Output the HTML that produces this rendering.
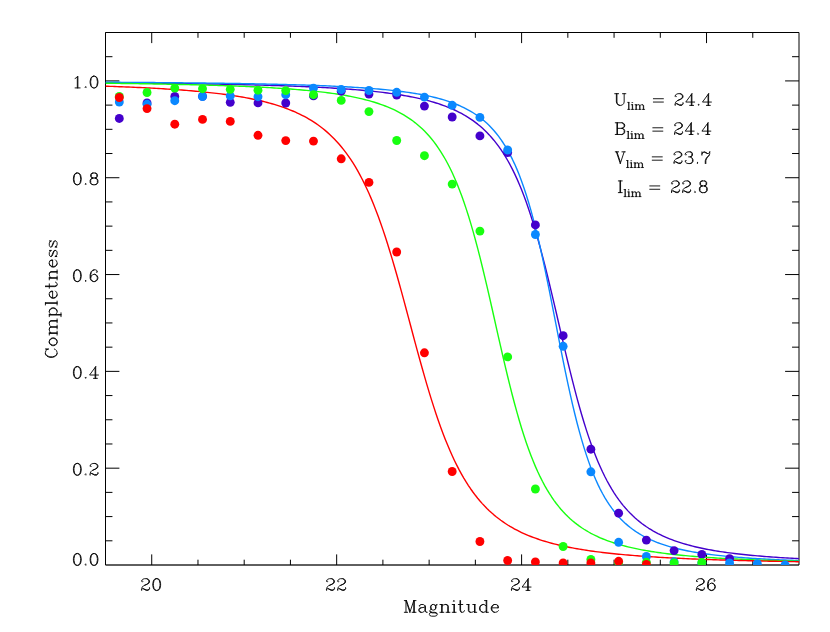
<!DOCTYPE html>
<html><head><meta charset="utf-8"><title>Completeness</title>
<style>html,body{margin:0;padding:0;background:#fff;font-family:"Liberation Sans",sans-serif;}svg{display:block}</style>
</head><body>
<svg width="830" height="632" viewBox="0 0 830 632">
<rect width="830" height="632" fill="#fff"/>
<defs><clipPath id="c"><rect x="105.50" y="32.50" width="693.50" height="532.50"/></clipPath></defs>
<path d="M105.50 32.50H799.00V565.00H105.50ZM105.50 565.00v-5.30M105.50 32.50v5.30M151.73 565.00v-10.60M151.73 32.50v10.60M197.97 565.00v-5.30M197.97 32.50v5.30M244.20 565.00v-5.30M244.20 32.50v5.30M290.43 565.00v-5.30M290.43 32.50v5.30M336.67 565.00v-10.60M336.67 32.50v10.60M382.90 565.00v-5.30M382.90 32.50v5.30M429.13 565.00v-5.30M429.13 32.50v5.30M475.37 565.00v-5.30M475.37 32.50v5.30M521.60 565.00v-10.60M521.60 32.50v10.60M567.83 565.00v-5.30M567.83 32.50v5.30M614.07 565.00v-5.30M614.07 32.50v5.30M660.30 565.00v-5.30M660.30 32.50v5.30M706.53 565.00v-10.60M706.53 32.50v10.60M752.77 565.00v-5.30M752.77 32.50v5.30M105.50 540.80h6.95M799.00 540.80h-6.95M105.50 516.59h6.95M799.00 516.59h-6.95M105.50 492.39h6.95M799.00 492.39h-6.95M105.50 468.18h13.90M799.00 468.18h-13.90M105.50 443.98h6.95M799.00 443.98h-6.95M105.50 419.77h6.95M799.00 419.77h-6.95M105.50 395.57h6.95M799.00 395.57h-6.95M105.50 371.36h13.90M799.00 371.36h-13.90M105.50 347.16h6.95M799.00 347.16h-6.95M105.50 322.95h6.95M799.00 322.95h-6.95M105.50 298.75h6.95M799.00 298.75h-6.95M105.50 274.55h13.90M799.00 274.55h-13.90M105.50 250.34h6.95M799.00 250.34h-6.95M105.50 226.14h6.95M799.00 226.14h-6.95M105.50 201.93h6.95M799.00 201.93h-6.95M105.50 177.73h13.90M799.00 177.73h-13.90M105.50 153.52h6.95M799.00 153.52h-6.95M105.50 129.32h6.95M799.00 129.32h-6.95M105.50 105.11h6.95M799.00 105.11h-6.95M105.50 80.91h13.90M799.00 80.91h-13.90M105.50 56.70h6.95M799.00 56.70h-6.95" fill="none" stroke="#000" stroke-width="1.0" stroke-linecap="butt" stroke-linejoin="miter"/>
<path d="M105.50 565.00H799.00" fill="none" stroke="#000" stroke-width="0.5"/>
<g clip-path="url(#c)" fill="none" stroke-width="1.4" stroke-linejoin="round">
<path d="M105.50 82.75L107.81 82.77L110.12 82.79L112.43 82.81L114.75 82.83L117.06 82.85L119.37 82.87L121.68 82.89L123.99 82.91L126.31 82.93L128.62 82.95L130.93 82.98L133.24 83.00L135.55 83.02L137.86 83.04L140.18 83.07L142.49 83.09L144.80 83.11L147.11 83.14L149.42 83.16L151.73 83.19L154.04 83.21L156.36 83.24L158.67 83.27L160.98 83.29L163.29 83.32L165.60 83.35L167.92 83.38L170.23 83.41L172.54 83.44L174.85 83.47L177.16 83.50L179.47 83.53L181.78 83.56L184.10 83.59L186.41 83.63L188.72 83.66L191.03 83.69L193.34 83.73L195.66 83.76L197.97 83.80L200.28 83.84L202.59 83.87L204.90 83.91L207.21 83.95L209.53 83.99L211.84 84.03L214.15 84.07L216.46 84.11L218.77 84.16L221.08 84.20L223.39 84.25L225.71 84.29L228.02 84.34L230.33 84.38L232.64 84.43L234.95 84.48L237.27 84.53L239.58 84.58L241.89 84.64L244.20 84.69L246.51 84.75L248.82 84.80L251.13 84.86L253.45 84.92L255.76 84.98L258.07 85.04L260.38 85.10L262.69 85.17L265.01 85.23L267.32 85.30L269.63 85.37L271.94 85.44L274.25 85.51L276.56 85.58L278.88 85.66L281.19 85.73L283.50 85.81L285.81 85.89L288.12 85.98L290.43 86.06L292.74 86.15L295.06 86.24L297.37 86.33L299.68 86.42L301.99 86.52L304.30 86.62L306.62 86.72L308.93 86.82L311.24 86.93L313.55 87.04L315.86 87.15L318.17 87.27L320.48 87.39L322.80 87.51L325.11 87.64L327.42 87.77L329.73 87.90L332.04 88.04L334.36 88.18L336.67 88.32L338.98 88.47L341.29 88.63L343.60 88.79L345.91 88.95L348.23 89.12L350.54 89.29L352.85 89.47L355.16 89.66L357.47 89.85L359.78 90.05L362.09 90.25L364.41 90.46L366.72 90.68L369.03 90.90L371.34 91.14L373.65 91.38L375.97 91.63L378.28 91.88L380.59 92.15L382.90 92.43L385.21 92.71L387.52 93.01L389.83 93.32L392.15 93.64L394.46 93.97L396.77 94.32L399.08 94.68L401.39 95.05L403.71 95.44L406.02 95.84L408.33 96.26L410.64 96.70L412.95 97.15L415.26 97.63L417.57 98.12L419.89 98.64L422.20 99.18L424.51 99.74L426.82 100.33L429.13 100.94L431.44 101.59L433.76 102.26L436.07 102.96L438.38 103.70L440.69 104.48L443.00 105.29L445.32 106.14L447.63 107.04L449.94 107.98L452.25 108.97L454.56 110.01L456.87 111.11L459.18 112.27L461.50 113.48L463.81 114.77L466.12 116.13L468.43 117.56L470.74 119.08L473.06 120.68L475.37 122.37L477.68 124.17L479.99 126.07L482.30 128.09L484.61 130.23L486.93 132.50L489.24 134.90L491.55 137.46L493.86 140.18L496.17 143.07L498.48 146.15L500.79 149.42L503.11 152.89L505.42 156.59L507.73 160.52L510.04 164.70L512.35 169.14L514.67 173.87L516.98 178.88L519.29 184.19L521.60 189.82L523.91 195.79L526.22 202.08L528.53 208.73L530.85 215.72L533.16 223.06L535.47 230.75L537.78 238.79L540.09 247.15L542.41 255.82L544.72 264.78L547.03 274.01L549.34 283.46L551.65 293.10L553.96 302.89L556.28 312.78L558.59 322.72L560.90 332.66L563.21 342.55L565.52 352.34L567.83 361.99L570.14 371.45L572.46 380.69L574.77 389.66L577.08 398.35L579.39 406.73L581.70 414.78L584.02 422.49L586.33 429.85L588.64 436.86L590.95 443.51L593.26 449.83L595.57 455.81L597.88 461.45L600.20 466.78L602.51 471.81L604.82 476.54L607.13 481.00L609.44 485.19L611.76 489.14L614.07 492.84L616.38 496.33L618.69 499.61L621.00 502.69L623.31 505.59L625.62 508.32L627.94 510.88L630.25 513.30L632.56 515.58L634.87 517.72L637.18 519.74L639.49 521.65L641.81 523.45L644.12 525.15L646.43 526.76L648.74 528.28L651.05 529.71L653.37 531.08L655.68 532.36L657.99 533.59L660.30 534.74L662.61 535.84L664.92 536.89L667.23 537.88L669.55 538.83L671.86 539.72L674.17 540.58L676.48 541.39L678.79 542.17L681.11 542.91L683.42 543.62L685.73 544.29L688.04 544.94L690.35 545.55L692.66 546.14L694.98 546.71L697.29 547.25L699.60 547.76L701.91 548.26L704.22 548.73L706.53 549.19L708.84 549.63L711.16 550.05L713.47 550.45L715.78 550.84L718.09 551.22L720.40 551.57L722.72 551.92L725.03 552.25L727.34 552.57L729.65 552.88L731.96 553.18L734.27 553.47L736.58 553.75L738.90 554.01L741.21 554.27L743.52 554.52L745.83 554.76L748.14 555.00L750.46 555.22L752.77 555.44L755.08 555.65L757.39 555.85L759.70 556.05L762.01 556.24L764.33 556.43L766.64 556.61L768.95 556.78L771.26 556.95L773.57 557.11L775.88 557.27L778.19 557.43L780.51 557.58L782.82 557.72L785.13 557.86L787.44 558.00L789.75 558.14L792.07 558.27L794.38 558.39L796.69 558.51L799.00 558.63" stroke="#4400cc"/>
<path d="M105.50 82.23L107.81 82.24L110.12 82.25L112.43 82.27L114.75 82.28L117.06 82.30L119.37 82.31L121.68 82.33L123.99 82.34L126.31 82.36L128.62 82.37L130.93 82.39L133.24 82.40L135.55 82.42L137.86 82.44L140.18 82.45L142.49 82.47L144.80 82.49L147.11 82.51L149.42 82.52L151.73 82.54L154.04 82.56L156.36 82.58L158.67 82.60L160.98 82.62L163.29 82.64L165.60 82.66L167.92 82.68L170.23 82.70L172.54 82.72L174.85 82.74L177.16 82.77L179.47 82.79L181.78 82.81L184.10 82.83L186.41 82.86L188.72 82.88L191.03 82.91L193.34 82.93L195.66 82.96L197.97 82.98L200.28 83.01L202.59 83.04L204.90 83.07L207.21 83.10L209.53 83.12L211.84 83.15L214.15 83.18L216.46 83.21L218.77 83.25L221.08 83.28L223.39 83.31L225.71 83.34L228.02 83.38L230.33 83.41L232.64 83.45L234.95 83.48L237.27 83.52L239.58 83.56L241.89 83.60L244.20 83.64L246.51 83.68L248.82 83.72L251.13 83.76L253.45 83.80L255.76 83.85L258.07 83.89L260.38 83.94L262.69 83.98L265.01 84.03L267.32 84.08L269.63 84.13L271.94 84.18L274.25 84.24L276.56 84.29L278.88 84.35L281.19 84.40L283.50 84.46L285.81 84.52L288.12 84.58L290.43 84.65L292.74 84.71L295.06 84.78L297.37 84.84L299.68 84.91L301.99 84.98L304.30 85.06L306.62 85.13L308.93 85.21L311.24 85.29L313.55 85.37L315.86 85.46L318.17 85.54L320.48 85.63L322.80 85.72L325.11 85.82L327.42 85.91L329.73 86.01L332.04 86.12L334.36 86.22L336.67 86.33L338.98 86.44L341.29 86.56L343.60 86.68L345.91 86.80L348.23 86.93L350.54 87.06L352.85 87.20L355.16 87.34L357.47 87.48L359.78 87.63L362.09 87.78L364.41 87.94L366.72 88.11L369.03 88.28L371.34 88.46L373.65 88.64L375.97 88.83L378.28 89.03L380.59 89.24L382.90 89.45L385.21 89.67L387.52 89.90L389.83 90.14L392.15 90.38L394.46 90.64L396.77 90.91L399.08 91.19L401.39 91.48L403.71 91.78L406.02 92.10L408.33 92.42L410.64 92.77L412.95 93.13L415.26 93.50L417.57 93.89L419.89 94.30L422.20 94.73L424.51 95.18L426.82 95.65L429.13 96.14L431.44 96.66L433.76 97.20L436.07 97.77L438.38 98.37L440.69 99.01L443.00 99.67L445.32 100.37L447.63 101.11L449.94 101.89L452.25 102.72L454.56 103.59L456.87 104.51L459.18 105.48L461.50 106.52L463.81 107.61L466.12 108.78L468.43 110.02L470.74 111.33L473.06 112.73L475.37 114.22L477.68 115.81L479.99 117.51L482.30 119.32L484.61 121.26L486.93 123.34L489.24 125.56L491.55 127.94L493.86 130.50L496.17 133.24L498.48 136.19L500.79 139.35L503.11 142.76L505.42 146.43L507.73 150.37L510.04 154.61L512.35 159.18L514.67 164.09L516.98 169.38L519.29 175.06L521.60 181.16L523.91 187.70L526.22 194.70L528.53 202.18L530.85 210.15L533.16 218.62L535.47 227.59L537.78 237.04L540.09 246.97L542.41 257.35L544.72 268.12L547.03 279.26L549.34 290.68L551.65 302.33L553.96 314.13L556.28 325.99L558.59 337.83L560.90 349.56L563.21 361.11L565.52 372.39L567.83 383.35L570.14 393.93L572.46 404.08L574.77 413.77L577.08 422.97L579.39 431.68L581.70 439.90L584.02 447.62L586.33 454.85L588.64 461.61L590.95 467.92L593.26 473.81L595.57 479.28L597.88 484.38L600.20 489.11L602.51 493.51L604.82 497.60L607.13 501.39L609.44 504.92L611.76 508.20L614.07 511.26L616.38 514.10L618.69 516.74L621.00 519.21L623.31 521.51L625.62 523.65L627.94 525.65L630.25 527.53L632.56 529.28L634.87 530.92L637.18 532.46L639.49 533.91L641.81 535.26L644.12 536.54L646.43 537.74L648.74 538.86L651.05 539.93L653.37 540.93L655.68 541.88L657.99 542.78L660.30 543.62L662.61 544.42L664.92 545.18L667.23 545.90L669.55 546.58L671.86 547.23L674.17 547.85L676.48 548.43L678.79 548.99L681.11 549.52L683.42 550.02L685.73 550.50L688.04 550.96L690.35 551.40L692.66 551.82L694.98 552.22L697.29 552.60L699.60 552.97L701.91 553.32L704.22 553.65L706.53 553.98L708.84 554.29L711.16 554.58L713.47 554.87L715.78 555.14L718.09 555.40L720.40 555.65L722.72 555.90L725.03 556.13L727.34 556.35L729.65 556.57L731.96 556.78L734.27 556.98L736.58 557.17L738.90 557.36L741.21 557.54L743.52 557.72L745.83 557.88L748.14 558.05L750.46 558.20L752.77 558.36L755.08 558.50L757.39 558.65L759.70 558.78L762.01 558.92L764.33 559.05L766.64 559.17L768.95 559.29L771.26 559.41L773.57 559.52L775.88 559.63L778.19 559.74L780.51 559.85L782.82 559.95L785.13 560.05L787.44 560.14L789.75 560.23L792.07 560.32L794.38 560.41L796.69 560.50L799.00 560.58" stroke="#0a88ff"/>
<path d="M105.50 83.24L107.81 83.26L110.12 83.29L112.43 83.32L114.75 83.35L117.06 83.38L119.37 83.41L121.68 83.44L123.99 83.47L126.31 83.50L128.62 83.53L130.93 83.57L133.24 83.60L135.55 83.64L137.86 83.67L140.18 83.71L142.49 83.74L144.80 83.78L147.11 83.82L149.42 83.85L151.73 83.89L154.04 83.93L156.36 83.97L158.67 84.02L160.98 84.06L163.29 84.10L165.60 84.14L167.92 84.19L170.23 84.24L172.54 84.28L174.85 84.33L177.16 84.38L179.47 84.43L181.78 84.48L184.10 84.53L186.41 84.58L188.72 84.64L191.03 84.69L193.34 84.75L195.66 84.81L197.97 84.87L200.28 84.93L202.59 84.99L204.90 85.06L207.21 85.12L209.53 85.19L211.84 85.26L214.15 85.33L216.46 85.40L218.77 85.47L221.08 85.54L223.39 85.62L225.71 85.70L228.02 85.78L230.33 85.86L232.64 85.95L234.95 86.04L237.27 86.13L239.58 86.22L241.89 86.31L244.20 86.41L246.51 86.51L248.82 86.61L251.13 86.71L253.45 86.82L255.76 86.93L258.07 87.04L260.38 87.16L262.69 87.28L265.01 87.40L267.32 87.53L269.63 87.66L271.94 87.80L274.25 87.94L276.56 88.08L278.88 88.22L281.19 88.38L283.50 88.53L285.81 88.69L288.12 88.86L290.43 89.03L292.74 89.21L295.06 89.39L297.37 89.58L299.68 89.77L301.99 89.98L304.30 90.18L306.62 90.40L308.93 90.62L311.24 90.85L313.55 91.09L315.86 91.34L318.17 91.60L320.48 91.86L322.80 92.14L325.11 92.42L327.42 92.72L329.73 93.02L332.04 93.34L334.36 93.68L336.67 94.02L338.98 94.38L341.29 94.75L343.60 95.14L345.91 95.55L348.23 95.97L350.54 96.41L352.85 96.86L355.16 97.34L357.47 97.84L359.78 98.36L362.09 98.91L364.41 99.47L366.72 100.07L369.03 100.69L371.34 101.35L373.65 102.03L375.97 102.75L378.28 103.50L380.59 104.29L382.90 105.12L385.21 106.00L387.52 106.91L389.83 107.88L392.15 108.90L394.46 109.97L396.77 111.11L399.08 112.30L401.39 113.56L403.71 114.90L406.02 116.31L408.33 117.80L410.64 119.38L412.95 121.05L415.26 122.83L417.57 124.71L419.89 126.71L422.20 128.84L424.51 131.09L426.82 133.50L429.13 136.05L431.44 138.77L433.76 141.67L436.07 144.75L438.38 148.04L440.69 151.55L443.00 155.28L445.32 159.26L447.63 163.50L449.94 168.01L452.25 172.82L454.56 177.94L456.87 183.37L459.18 189.15L461.50 195.27L463.81 201.75L466.12 208.60L468.43 215.82L470.74 223.42L473.06 231.38L475.37 239.71L477.68 248.39L479.99 257.40L482.30 266.71L484.61 276.29L486.93 286.11L489.24 296.12L491.55 306.27L493.86 316.50L496.17 326.78L498.48 337.03L500.79 347.20L503.11 357.25L505.42 367.12L507.73 376.77L510.04 386.15L512.35 395.24L514.67 404.01L516.98 412.43L519.29 420.49L521.60 428.18L523.91 435.50L526.22 442.44L528.53 449.02L530.85 455.23L533.16 461.09L535.47 466.61L537.78 471.81L540.09 476.69L542.41 481.28L544.72 485.59L547.03 489.63L549.34 493.43L551.65 496.99L553.96 500.33L556.28 503.47L558.59 506.41L560.90 509.18L563.21 511.77L565.52 514.21L567.83 516.51L570.14 518.67L572.46 520.70L574.77 522.61L577.08 524.41L579.39 526.11L581.70 527.72L584.02 529.23L586.33 530.66L588.64 532.01L590.95 533.29L593.26 534.50L595.57 535.65L597.88 536.74L600.20 537.77L602.51 538.75L604.82 539.68L607.13 540.57L609.44 541.41L611.76 542.21L614.07 542.97L616.38 543.70L618.69 544.39L621.00 545.05L623.31 545.68L625.62 546.28L627.94 546.86L630.25 547.41L632.56 547.94L634.87 548.44L637.18 548.93L639.49 549.39L641.81 549.83L644.12 550.26L646.43 550.67L648.74 551.06L651.05 551.44L653.37 551.80L655.68 552.15L657.99 552.48L660.30 552.80L662.61 553.11L664.92 553.41L667.23 553.70L669.55 553.98L671.86 554.25L674.17 554.51L676.48 554.75L678.79 555.00L681.11 555.23L683.42 555.45L685.73 555.67L688.04 555.88L690.35 556.08L692.66 556.28L694.98 556.47L697.29 556.65L699.60 556.83L701.91 557.01L704.22 557.17L706.53 557.34L708.84 557.49L711.16 557.65L713.47 557.79L715.78 557.94L718.09 558.08L720.40 558.21L722.72 558.34L725.03 558.47L727.34 558.60L729.65 558.72L731.96 558.84L734.27 558.95L736.58 559.06L738.90 559.17L741.21 559.27L743.52 559.38L745.83 559.48L748.14 559.57L750.46 559.67L752.77 559.76L755.08 559.85L757.39 559.94L759.70 560.02L762.01 560.11L764.33 560.19L766.64 560.27L768.95 560.34L771.26 560.42L773.57 560.49L775.88 560.57L778.19 560.64L780.51 560.70L782.82 560.77L785.13 560.84L787.44 560.90L789.75 560.96L792.07 561.02L794.38 561.08L796.69 561.14L799.00 561.20" stroke="#18ff10"/>
<path d="M105.50 86.18L107.81 86.26L110.12 86.34L112.43 86.42L114.75 86.50L117.06 86.59L119.37 86.68L121.68 86.76L123.99 86.86L126.31 86.95L128.62 87.05L130.93 87.14L133.24 87.24L135.55 87.35L137.86 87.45L140.18 87.56L142.49 87.67L144.80 87.79L147.11 87.90L149.42 88.02L151.73 88.14L154.04 88.27L156.36 88.40L158.67 88.53L160.98 88.66L163.29 88.80L165.60 88.95L167.92 89.09L170.23 89.24L172.54 89.40L174.85 89.56L177.16 89.72L179.47 89.89L181.78 90.06L184.10 90.24L186.41 90.42L188.72 90.61L191.03 90.80L193.34 91.00L195.66 91.21L197.97 91.42L200.28 91.64L202.59 91.86L204.90 92.09L207.21 92.33L209.53 92.58L211.84 92.83L214.15 93.09L216.46 93.36L218.77 93.64L221.08 93.93L223.39 94.23L225.71 94.54L228.02 94.86L230.33 95.19L232.64 95.53L234.95 95.89L237.27 96.25L239.58 96.63L241.89 97.02L244.20 97.43L246.51 97.85L248.82 98.29L251.13 98.75L253.45 99.22L255.76 99.71L258.07 100.22L260.38 100.75L262.69 101.30L265.01 101.87L267.32 102.47L269.63 103.09L271.94 103.74L274.25 104.41L276.56 105.12L278.88 105.85L281.19 106.61L283.50 107.41L285.81 108.25L288.12 109.12L290.43 110.03L292.74 110.98L295.06 111.98L297.37 113.02L299.68 114.12L301.99 115.26L304.30 116.47L306.62 117.73L308.93 119.05L311.24 120.44L313.55 121.90L315.86 123.43L318.17 125.04L320.48 126.74L322.80 128.53L325.11 130.40L327.42 132.38L329.73 134.47L332.04 136.66L334.36 138.98L336.67 141.42L338.98 144.00L341.29 146.72L343.60 149.58L345.91 152.61L348.23 155.80L350.54 159.17L352.85 162.72L355.16 166.47L357.47 170.42L359.78 174.58L362.09 178.97L364.41 183.59L366.72 188.44L369.03 193.55L371.34 198.90L373.65 204.52L375.97 210.40L378.28 216.55L380.59 222.96L382.90 229.63L385.21 236.57L387.52 243.76L389.83 251.19L392.15 258.85L394.46 266.72L396.77 274.79L399.08 283.03L401.39 291.41L403.71 299.91L406.02 308.49L408.33 317.13L410.64 325.80L412.95 334.45L415.26 343.06L417.57 351.59L419.89 360.02L422.20 368.31L424.51 376.43L426.82 384.37L429.13 392.11L431.44 399.62L433.76 406.90L436.07 413.92L438.38 420.68L440.69 427.19L443.00 433.42L445.32 439.40L447.63 445.10L449.94 450.55L452.25 455.74L454.56 460.68L456.87 465.38L459.18 469.84L461.50 474.08L463.81 478.11L466.12 481.92L468.43 485.54L470.74 488.97L473.06 492.22L475.37 495.30L477.68 498.22L479.99 500.99L482.30 503.62L484.61 506.10L486.93 508.46L489.24 510.70L491.55 512.82L493.86 514.84L496.17 516.75L498.48 518.56L500.79 520.29L503.11 521.93L505.42 523.49L507.73 524.98L510.04 526.39L512.35 527.73L514.67 529.02L516.98 530.24L519.29 531.40L521.60 532.51L523.91 533.58L526.22 534.59L528.53 535.56L530.85 536.48L533.16 537.37L535.47 538.21L537.78 539.02L540.09 539.80L542.41 540.55L544.72 541.26L547.03 541.94L549.34 542.60L551.65 543.23L553.96 543.83L556.28 544.41L558.59 544.97L560.90 545.51L563.21 546.03L565.52 546.52L567.83 547.00L570.14 547.46L572.46 547.91L574.77 548.33L577.08 548.75L579.39 549.14L581.70 549.53L584.02 549.90L586.33 550.26L588.64 550.60L590.95 550.94L593.26 551.26L595.57 551.57L597.88 551.87L600.20 552.17L602.51 552.45L604.82 552.72L607.13 552.99L609.44 553.24L611.76 553.49L614.07 553.73L616.38 553.97L618.69 554.20L621.00 554.42L623.31 554.63L625.62 554.84L627.94 555.04L630.25 555.23L632.56 555.42L634.87 555.61L637.18 555.79L639.49 555.96L641.81 556.13L644.12 556.30L646.43 556.46L648.74 556.61L651.05 556.76L653.37 556.91L655.68 557.06L657.99 557.20L660.30 557.33L662.61 557.47L664.92 557.60L667.23 557.72L669.55 557.85L671.86 557.97L674.17 558.08L676.48 558.20L678.79 558.31L681.11 558.42L683.42 558.53L685.73 558.63L688.04 558.73L690.35 558.83L692.66 558.93L694.98 559.02L697.29 559.11L699.60 559.20L701.91 559.29L704.22 559.38L706.53 559.46L708.84 559.54L711.16 559.63L713.47 559.70L715.78 559.78L718.09 559.86L720.40 559.93L722.72 560.00L725.03 560.07L727.34 560.14L729.65 560.21L731.96 560.28L734.27 560.34L736.58 560.41L738.90 560.47L741.21 560.53L743.52 560.59L745.83 560.65L748.14 560.71L750.46 560.76L752.77 560.82L755.08 560.87L757.39 560.93L759.70 560.98L762.01 561.03L764.33 561.08L766.64 561.13L768.95 561.18L771.26 561.23L773.57 561.27L775.88 561.32L778.19 561.36L780.51 561.41L782.82 561.45L785.13 561.49L787.44 561.54L789.75 561.58L792.07 561.62L794.38 561.66L796.69 561.70L799.00 561.73" stroke="#ff0000"/>
</g>
<g clip-path="url(#c)">
<g fill="#4400cc">
<circle cx="119.30" cy="118.45" r="4.45"/>
<circle cx="147.04" cy="103.00" r="4.45"/>
<circle cx="174.78" cy="96.40" r="4.45"/>
<circle cx="202.52" cy="96.30" r="4.45"/>
<circle cx="230.26" cy="102.30" r="4.45"/>
<circle cx="258.00" cy="102.90" r="4.45"/>
<circle cx="285.74" cy="103.00" r="4.45"/>
<circle cx="313.48" cy="95.90" r="4.45"/>
<circle cx="341.22" cy="91.20" r="4.45"/>
<circle cx="368.96" cy="94.10" r="4.45"/>
<circle cx="396.70" cy="95.10" r="4.45"/>
<circle cx="424.44" cy="106.10" r="4.45"/>
<circle cx="452.18" cy="117.00" r="4.45"/>
<circle cx="479.92" cy="135.90" r="4.45"/>
<circle cx="507.66" cy="152.50" r="4.45"/>
<circle cx="535.40" cy="224.90" r="4.45"/>
<circle cx="563.14" cy="335.70" r="4.45"/>
<circle cx="590.88" cy="449.20" r="4.45"/>
<circle cx="618.62" cy="513.20" r="4.45"/>
<circle cx="646.36" cy="540.10" r="4.45"/>
<circle cx="674.10" cy="550.60" r="4.45"/>
<circle cx="701.84" cy="554.40" r="4.45"/>
<circle cx="729.58" cy="558.60" r="4.45"/>
</g>
<g fill="#0a88ff">
<circle cx="119.30" cy="102.00" r="4.45"/>
<circle cx="147.04" cy="104.30" r="4.45"/>
<circle cx="174.78" cy="100.70" r="4.45"/>
<circle cx="202.52" cy="96.50" r="4.45"/>
<circle cx="230.26" cy="95.90" r="4.45"/>
<circle cx="258.00" cy="96.70" r="4.45"/>
<circle cx="285.74" cy="94.70" r="4.45"/>
<circle cx="313.48" cy="88.10" r="4.45"/>
<circle cx="341.22" cy="89.50" r="4.45"/>
<circle cx="368.96" cy="90.50" r="4.45"/>
<circle cx="396.70" cy="92.30" r="4.45"/>
<circle cx="424.44" cy="97.10" r="4.45"/>
<circle cx="452.18" cy="105.30" r="4.45"/>
<circle cx="479.92" cy="117.40" r="4.45"/>
<circle cx="507.66" cy="150.00" r="4.45"/>
<circle cx="535.40" cy="234.50" r="4.45"/>
<circle cx="563.14" cy="346.30" r="4.45"/>
<circle cx="590.88" cy="471.80" r="4.45"/>
<circle cx="618.62" cy="542.30" r="4.45"/>
<circle cx="646.36" cy="556.50" r="4.45"/>
<circle cx="674.10" cy="561.80" r="4.45"/>
<circle cx="701.84" cy="563.00" r="4.45"/>
<circle cx="729.58" cy="563.00" r="4.45"/>
<circle cx="757.32" cy="563.70" r="4.45"/>
<circle cx="785.06" cy="564.90" r="4.45"/>
</g>
<g fill="#18ff10">
<circle cx="119.30" cy="96.40" r="4.45"/>
<circle cx="147.04" cy="92.50" r="4.45"/>
<circle cx="174.78" cy="88.10" r="4.45"/>
<circle cx="202.52" cy="88.70" r="4.45"/>
<circle cx="230.26" cy="89.30" r="4.45"/>
<circle cx="258.00" cy="90.20" r="4.45"/>
<circle cx="285.74" cy="90.60" r="4.45"/>
<circle cx="313.48" cy="94.70" r="4.45"/>
<circle cx="341.22" cy="100.40" r="4.45"/>
<circle cx="368.96" cy="111.60" r="4.45"/>
<circle cx="396.70" cy="140.50" r="4.45"/>
<circle cx="424.44" cy="155.70" r="4.45"/>
<circle cx="452.18" cy="184.10" r="4.45"/>
<circle cx="479.92" cy="231.10" r="4.45"/>
<circle cx="507.66" cy="356.90" r="4.45"/>
<circle cx="535.40" cy="489.00" r="4.45"/>
<circle cx="563.14" cy="546.50" r="4.45"/>
<circle cx="590.88" cy="559.50" r="4.45"/>
<circle cx="618.62" cy="562.50" r="4.45"/>
<circle cx="646.36" cy="562.30" r="4.45"/>
<circle cx="674.10" cy="563.00" r="4.45"/>
<circle cx="701.84" cy="562.50" r="4.45"/>
</g>
<g fill="#ff0000">
<circle cx="119.30" cy="97.50" r="4.45"/>
<circle cx="147.04" cy="108.60" r="4.45"/>
<circle cx="174.78" cy="124.20" r="4.45"/>
<circle cx="202.52" cy="119.40" r="4.45"/>
<circle cx="230.26" cy="121.40" r="4.45"/>
<circle cx="258.00" cy="135.30" r="4.45"/>
<circle cx="285.74" cy="140.60" r="4.45"/>
<circle cx="313.48" cy="141.10" r="4.45"/>
<circle cx="341.22" cy="158.80" r="4.45"/>
<circle cx="368.96" cy="182.40" r="4.45"/>
<circle cx="396.70" cy="252.00" r="4.45"/>
<circle cx="424.44" cy="352.80" r="4.45"/>
<circle cx="452.18" cy="471.50" r="4.45"/>
<circle cx="479.92" cy="541.50" r="4.45"/>
<circle cx="507.66" cy="560.50" r="4.45"/>
<circle cx="535.40" cy="562.00" r="4.45"/>
<circle cx="563.14" cy="563.00" r="4.45"/>
<circle cx="590.88" cy="563.00" r="4.45"/>
<circle cx="618.62" cy="561.30" r="4.45"/>
<circle cx="646.36" cy="564.50" r="4.45"/>
</g>
</g>
<path d="M142.22 580.93L142.78 581.49L142.22 582.04L141.66 581.49L141.66 580.93L142.22 579.82L142.78 579.26L144.45 578.70L146.68 578.70L148.35 579.26L148.91 579.82L149.46 580.93L149.46 582.04L148.91 583.16L147.23 584.27L144.45 585.39L143.34 585.94L142.22 587.06L141.66 588.73L141.66 590.40M146.68 578.70L147.79 579.26L148.35 579.82L148.91 580.93L148.91 582.04L148.35 583.16L146.68 584.27L144.45 585.39M141.66 589.29L142.22 588.73L143.34 588.73L146.12 589.84L147.79 589.84L148.91 589.29L149.46 588.73M143.34 588.73L146.12 590.40L148.35 590.40L148.91 589.84L149.46 588.73L149.46 587.62M156.15 578.70L154.48 579.26L153.36 580.93L152.80 583.72L152.80 585.39L153.36 588.17L154.48 589.84L156.15 590.40L157.26 590.40L158.93 589.84L160.05 588.17L160.60 585.39L160.60 583.72L160.05 580.93L158.93 579.26L157.26 578.70L156.15 578.70M156.15 578.70L155.03 579.26L154.48 579.82L153.92 580.93L153.36 583.72L153.36 585.39L153.92 588.17L154.48 589.29L155.03 589.84L156.15 590.40M157.26 590.40L158.37 589.84L158.93 589.29L159.49 588.17L160.05 585.39L160.05 583.72L159.49 580.93L158.93 579.82L158.37 579.26L157.26 578.70M327.15 580.93L327.71 581.49L327.15 582.04L326.60 581.49L326.60 580.93L327.15 579.82L327.71 579.26L329.38 578.70L331.61 578.70L333.28 579.26L333.84 579.82L334.40 580.93L334.40 582.04L333.84 583.16L332.17 584.27L329.38 585.39L328.27 585.94L327.15 587.06L326.60 588.73L326.60 590.40M331.61 578.70L332.72 579.26L333.28 579.82L333.84 580.93L333.84 582.04L333.28 583.16L331.61 584.27L329.38 585.39M326.60 589.29L327.15 588.73L328.27 588.73L331.05 589.84L332.72 589.84L333.84 589.29L334.40 588.73M328.27 588.73L331.05 590.40L333.28 590.40L333.84 589.84L334.40 588.73L334.40 587.62M338.29 580.93L338.85 581.49L338.29 582.04L337.74 581.49L337.74 580.93L338.29 579.82L338.85 579.26L340.52 578.70L342.75 578.70L344.42 579.26L344.98 579.82L345.54 580.93L345.54 582.04L344.98 583.16L343.31 584.27L340.52 585.39L339.41 585.94L338.29 587.06L337.74 588.73L337.74 590.40M342.75 578.70L343.86 579.26L344.42 579.82L344.98 580.93L344.98 582.04L344.42 583.16L342.75 584.27L340.52 585.39M337.74 589.29L338.29 588.73L339.41 588.73L342.19 589.84L343.86 589.84L344.98 589.29L345.54 588.73M339.41 588.73L342.19 590.40L344.42 590.40L344.98 589.84L345.54 588.73L345.54 587.62M512.09 580.93L512.64 581.49L512.09 582.04L511.53 581.49L511.53 580.93L512.09 579.82L512.64 579.26L514.32 578.70L516.54 578.70L518.22 579.26L518.77 579.82L519.33 580.93L519.33 582.04L518.77 583.16L517.10 584.27L514.32 585.39L513.20 585.94L512.09 587.06L511.53 588.73L511.53 590.40M516.54 578.70L517.66 579.26L518.22 579.82L518.77 580.93L518.77 582.04L518.22 583.16L516.54 584.27L514.32 585.39M511.53 589.29L512.09 588.73L513.20 588.73L515.99 589.84L517.66 589.84L518.77 589.29L519.33 588.73M513.20 588.73L515.99 590.40L518.22 590.40L518.77 589.84L519.33 588.73L519.33 587.62M527.68 579.82L527.68 590.40M528.24 578.70L528.24 590.40M528.24 578.70L522.11 587.06L531.03 587.06M526.01 590.40L529.91 590.40M697.02 580.93L697.58 581.49L697.02 582.04L696.46 581.49L696.46 580.93L697.02 579.82L697.58 579.26L699.25 578.70L701.48 578.70L703.15 579.26L703.71 579.82L704.26 580.93L704.26 582.04L703.71 583.16L702.03 584.27L699.25 585.39L698.14 585.94L697.02 587.06L696.46 588.73L696.46 590.40M701.48 578.70L702.59 579.26L703.15 579.82L703.71 580.93L703.71 582.04L703.15 583.16L701.48 584.27L699.25 585.39M696.46 589.29L697.02 588.73L698.14 588.73L700.92 589.84L702.59 589.84L703.71 589.29L704.26 588.73M698.14 588.73L700.92 590.40L703.15 590.40L703.71 589.84L704.26 588.73L704.26 587.62M714.29 580.37L713.73 580.93L714.29 581.49L714.85 580.93L714.85 580.37L714.29 579.26L713.17 578.70L711.50 578.70L709.83 579.26L708.72 580.37L708.16 581.49L707.60 583.72L707.60 587.06L708.16 588.73L709.28 589.84L710.95 590.40L712.06 590.40L713.73 589.84L714.85 588.73L715.40 587.06L715.40 586.50L714.85 584.83L713.73 583.72L712.06 583.16L711.50 583.16L709.83 583.72L708.72 584.83L708.16 586.50M711.50 578.70L710.39 579.26L709.28 580.37L708.72 581.49L708.16 583.72L708.16 587.06L708.72 588.73L709.83 589.84L710.95 590.40M712.06 590.40L713.17 589.84L714.29 588.73L714.85 587.06L714.85 586.50L714.29 584.83L713.17 583.72L712.06 583.16M76.76 553.60L75.09 554.16L73.98 555.83L73.42 558.62L73.42 560.29L73.98 563.07L75.09 564.74L76.76 565.30L77.88 565.30L79.55 564.74L80.66 563.07L81.22 560.29L81.22 558.62L80.66 555.83L79.55 554.16L77.88 553.60L76.76 553.60M76.76 553.60L75.65 554.16L75.09 554.72L74.53 555.83L73.98 558.62L73.98 560.29L74.53 563.07L75.09 564.19L75.65 564.74L76.76 565.30M77.88 565.30L78.99 564.74L79.55 564.19L80.11 563.07L80.66 560.29L80.66 558.62L80.11 555.83L79.55 554.72L78.99 554.16L77.88 553.60M85.67 564.19L85.12 564.74L85.67 565.30L86.23 564.74L85.67 564.19M93.47 553.60L91.80 554.16L90.69 555.83L90.13 558.62L90.13 560.29L90.69 563.07L91.80 564.74L93.47 565.30L94.59 565.30L96.26 564.74L97.37 563.07L97.93 560.29L97.93 558.62L97.37 555.83L96.26 554.16L94.59 553.60L93.47 553.60M93.47 553.60L92.36 554.16L91.80 554.72L91.25 555.83L90.69 558.62L90.69 560.29L91.25 563.07L91.80 564.19L92.36 564.74L93.47 565.30M94.59 565.30L95.70 564.74L96.26 564.19L96.82 563.07L97.37 560.29L97.37 558.62L96.82 555.83L96.26 554.72L95.70 554.16L94.59 553.60M76.76 463.48L75.09 464.04L73.98 465.71L73.42 468.50L73.42 470.17L73.98 472.95L75.09 474.62L76.76 475.18L77.88 475.18L79.55 474.62L80.66 472.95L81.22 470.17L81.22 468.50L80.66 465.71L79.55 464.04L77.88 463.48L76.76 463.48M76.76 463.48L75.65 464.04L75.09 464.60L74.53 465.71L73.98 468.50L73.98 470.17L74.53 472.95L75.09 474.07L75.65 474.62L76.76 475.18M77.88 475.18L78.99 474.62L79.55 474.07L80.11 472.95L80.66 470.17L80.66 468.50L80.11 465.71L79.55 464.60L78.99 464.04L77.88 463.48M85.67 474.07L85.12 474.62L85.67 475.18L86.23 474.62L85.67 474.07M90.69 465.71L91.25 466.27L90.69 466.83L90.13 466.27L90.13 465.71L90.69 464.60L91.25 464.04L92.92 463.48L95.14 463.48L96.82 464.04L97.37 464.60L97.93 465.71L97.93 466.83L97.37 467.94L95.70 469.05L92.92 470.17L91.80 470.73L90.69 471.84L90.13 473.51L90.13 475.18M95.14 463.48L96.26 464.04L96.82 464.60L97.37 465.71L97.37 466.83L96.82 467.94L95.14 469.05L92.92 470.17M90.13 474.07L90.69 473.51L91.80 473.51L94.59 474.62L96.26 474.62L97.37 474.07L97.93 473.51M91.80 473.51L94.59 475.18L96.82 475.18L97.37 474.62L97.93 473.51L97.93 472.40M76.76 366.67L75.09 367.22L73.98 368.89L73.42 371.68L73.42 373.35L73.98 376.14L75.09 377.81L76.76 378.36L77.88 378.36L79.55 377.81L80.66 376.14L81.22 373.35L81.22 371.68L80.66 368.89L79.55 367.22L77.88 366.67L76.76 366.67M76.76 366.67L75.65 367.22L75.09 367.78L74.53 368.89L73.98 371.68L73.98 373.35L74.53 376.14L75.09 377.25L75.65 377.81L76.76 378.36M77.88 378.36L78.99 377.81L79.55 377.25L80.11 376.14L80.66 373.35L80.66 371.68L80.11 368.89L79.55 367.78L78.99 367.22L77.88 366.67M85.67 377.25L85.12 377.81L85.67 378.36L86.23 377.81L85.67 377.25M95.14 367.78L95.14 378.36M95.70 366.67L95.70 378.36M95.70 366.67L89.57 375.02L98.49 375.02M93.47 378.36L97.37 378.36M76.76 269.85L75.09 270.41L73.98 272.08L73.42 274.86L73.42 276.53L73.98 279.32L75.09 280.99L76.76 281.55L77.88 281.55L79.55 280.99L80.66 279.32L81.22 276.53L81.22 274.86L80.66 272.08L79.55 270.41L77.88 269.85L76.76 269.85M76.76 269.85L75.65 270.41L75.09 270.96L74.53 272.08L73.98 274.86L73.98 276.53L74.53 279.32L75.09 280.43L75.65 280.99L76.76 281.55M77.88 281.55L78.99 280.99L79.55 280.43L80.11 279.32L80.66 276.53L80.66 274.86L80.11 272.08L79.55 270.96L78.99 270.41L77.88 269.85M85.67 280.43L85.12 280.99L85.67 281.55L86.23 280.99L85.67 280.43M96.82 271.52L96.26 272.08L96.82 272.63L97.37 272.08L97.37 271.52L96.82 270.41L95.70 269.85L94.03 269.85L92.36 270.41L91.25 271.52L90.69 272.63L90.13 274.86L90.13 278.20L90.69 279.87L91.80 280.99L93.47 281.55L94.59 281.55L96.26 280.99L97.37 279.87L97.93 278.20L97.93 277.65L97.37 275.98L96.26 274.86L94.59 274.30L94.03 274.30L92.36 274.86L91.25 275.98L90.69 277.65M94.03 269.85L92.92 270.41L91.80 271.52L91.25 272.63L90.69 274.86L90.69 278.20L91.25 279.87L92.36 280.99L93.47 281.55M94.59 281.55L95.70 280.99L96.82 279.87L97.37 278.20L97.37 277.65L96.82 275.98L95.70 274.86L94.59 274.30M76.76 173.03L75.09 173.59L73.98 175.26L73.42 178.04L73.42 179.71L73.98 182.50L75.09 184.17L76.76 184.73L77.88 184.73L79.55 184.17L80.66 182.50L81.22 179.71L81.22 178.04L80.66 175.26L79.55 173.59L77.88 173.03L76.76 173.03M76.76 173.03L75.65 173.59L75.09 174.14L74.53 175.26L73.98 178.04L73.98 179.71L74.53 182.50L75.09 183.61L75.65 184.17L76.76 184.73M77.88 184.73L78.99 184.17L79.55 183.61L80.11 182.50L80.66 179.71L80.66 178.04L80.11 175.26L79.55 174.14L78.99 173.59L77.88 173.03M85.67 183.61L85.12 184.17L85.67 184.73L86.23 184.17L85.67 183.61M92.92 173.03L91.25 173.59L90.69 174.70L90.69 176.37L91.25 177.49L92.92 178.04L95.14 178.04L96.82 177.49L97.37 176.37L97.37 174.70L96.82 173.59L95.14 173.03L92.92 173.03M92.92 173.03L91.80 173.59L91.25 174.70L91.25 176.37L91.80 177.49L92.92 178.04M95.14 178.04L96.26 177.49L96.82 176.37L96.82 174.70L96.26 173.59L95.14 173.03M92.92 178.04L91.25 178.60L90.69 179.16L90.13 180.27L90.13 182.50L90.69 183.61L91.25 184.17L92.92 184.73L95.14 184.73L96.82 184.17L97.37 183.61L97.93 182.50L97.93 180.27L97.37 179.16L96.82 178.60L95.14 178.04M92.92 178.04L91.80 178.60L91.25 179.16L90.69 180.27L90.69 182.50L91.25 183.61L91.80 184.17L92.92 184.73M95.14 184.73L96.26 184.17L96.82 183.61L97.37 182.50L97.37 180.27L96.82 179.16L96.26 178.60L95.14 178.04M75.09 78.44L76.21 77.88L77.88 76.21L77.88 87.91M77.32 76.77L77.32 87.91M75.09 87.91L80.11 87.91M85.67 86.80L85.12 87.35L85.67 87.91L86.23 87.35L85.67 86.80M93.47 76.21L91.80 76.77L90.69 78.44L90.13 81.23L90.13 82.90L90.69 85.68L91.80 87.35L93.47 87.91L94.59 87.91L96.26 87.35L97.37 85.68L97.93 82.90L97.93 81.23L97.37 78.44L96.26 76.77L94.59 76.21L93.47 76.21M93.47 76.21L92.36 76.77L91.80 77.33L91.25 78.44L90.69 81.23L90.69 82.90L91.25 85.68L91.80 86.80L92.36 87.35L93.47 87.91M94.59 87.91L95.70 87.35L96.26 86.80L96.82 85.68L97.37 82.90L97.37 81.23L96.82 78.44L96.26 77.33L95.70 76.77L94.59 76.21M405.98 600.60L405.98 612.30M406.53 600.60L409.88 610.63M405.98 600.60L409.88 612.30M413.77 600.60L409.88 612.30M413.77 600.60L413.77 612.30M414.33 600.60L414.33 612.30M404.30 600.60L406.53 600.60M413.77 600.60L416.00 600.60M404.30 612.30L407.65 612.30M412.10 612.30L416.00 612.30M419.90 605.62L419.90 606.17L419.34 606.17L419.34 605.62L419.90 605.06L421.01 604.50L423.24 604.50L424.36 605.06L424.91 605.62L425.47 606.73L425.47 610.63L426.03 611.74L426.58 612.30M424.91 605.62L424.91 610.63L425.47 611.74L426.58 612.30L427.14 612.30M424.91 606.73L424.36 607.29L421.01 607.84L419.34 608.40L418.79 609.51L418.79 610.63L419.34 611.74L421.01 612.30L422.69 612.30L423.80 611.74L424.91 610.63M421.01 607.84L419.90 608.40L419.34 609.51L419.34 610.63L419.90 611.74L421.01 612.30M432.71 604.50L431.60 605.06L431.04 605.62L430.48 606.73L430.48 607.84L431.04 608.96L431.60 609.51L432.71 610.07L433.83 610.07L434.94 609.51L435.50 608.96L436.05 607.84L436.05 606.73L435.50 605.62L434.94 605.06L433.83 604.50L432.71 604.50M431.60 605.06L431.04 606.17L431.04 608.40L431.60 609.51M434.94 609.51L435.50 608.40L435.50 606.17L434.94 605.06M435.50 605.62L436.05 605.06L437.17 604.50L437.17 605.06L436.05 605.06M431.04 608.96L430.48 609.51L429.93 610.63L429.93 611.19L430.48 612.30L432.15 612.86L434.94 612.86L436.61 613.41L437.17 613.97M429.93 611.19L430.48 611.74L432.15 612.30L434.94 612.30L436.61 612.86L437.17 613.97L437.17 614.53L436.61 615.64L434.94 616.20L431.60 616.20L429.93 615.64L429.37 614.53L429.37 613.97L429.93 612.86L431.60 612.30M441.62 604.50L441.62 612.30M442.18 604.50L442.18 612.30M442.18 606.17L443.30 605.06L444.97 604.50L446.08 604.50L447.75 605.06L448.31 606.17L448.31 612.30M446.08 604.50L447.19 605.06L447.75 606.17L447.75 612.30M439.95 604.50L442.18 604.50M439.95 612.30L443.85 612.30M446.08 612.30L449.98 612.30M453.88 600.60L453.32 601.16L453.88 601.72L454.44 601.16L453.88 600.60M453.88 604.50L453.88 612.30M454.44 604.50L454.44 612.30M452.21 604.50L454.44 604.50M452.21 612.30L456.11 612.30M460.01 600.60L460.01 610.07L460.56 611.74L461.68 612.30L462.79 612.30L463.90 611.74L464.46 610.63M460.56 600.60L460.56 610.07L461.12 611.74L461.68 612.30M458.33 604.50L462.79 604.50M468.36 604.50L468.36 610.63L468.92 611.74L470.59 612.30L471.70 612.30L473.37 611.74L474.49 610.63M468.92 604.50L468.92 610.63L469.47 611.74L470.59 612.30M474.49 604.50L474.49 612.30M475.04 604.50L475.04 612.30M466.69 604.50L468.92 604.50M472.82 604.50L475.04 604.50M474.49 612.30L476.72 612.30M486.18 600.60L486.18 612.30M486.74 600.60L486.74 612.30M486.18 606.17L485.07 605.06L483.96 604.50L482.84 604.50L481.17 605.06L480.06 606.17L479.50 607.84L479.50 608.96L480.06 610.63L481.17 611.74L482.84 612.30L483.96 612.30L485.07 611.74L486.18 610.63M482.84 604.50L481.73 605.06L480.61 606.17L480.06 607.84L480.06 608.96L480.61 610.63L481.73 611.74L482.84 612.30M484.51 600.60L486.74 600.60M486.18 612.30L488.41 612.30M491.75 607.84L498.44 607.84L498.44 606.73L497.88 605.62L497.32 605.06L496.21 604.50L494.54 604.50L492.87 605.06L491.75 606.17L491.20 607.84L491.20 608.96L491.75 610.63L492.87 611.74L494.54 612.30L495.65 612.30L497.32 611.74L498.44 610.63M497.88 607.84L497.88 606.17L497.32 605.06M494.54 604.50L493.43 605.06L492.31 606.17L491.75 607.84L491.75 608.96L492.31 610.63L493.43 611.74L494.54 612.30" fill="none" stroke="#000" stroke-width="0.90" stroke-linecap="round" stroke-linejoin="round"/>
<path transform="translate(57.1 299.15) rotate(-90)" d="M-50.41 -10.03L-49.85 -8.36L-49.85 -11.70L-50.41 -10.03L-51.52 -11.14L-53.19 -11.70L-54.31 -11.70L-55.98 -11.14L-57.09 -10.03L-57.65 -8.91L-58.21 -7.24L-58.21 -4.46L-57.65 -2.79L-57.09 -1.67L-55.98 -0.56L-54.31 0.00L-53.19 0.00L-51.52 -0.56L-50.41 -1.67L-49.85 -2.79M-54.31 -11.70L-55.42 -11.14L-56.54 -10.03L-57.09 -8.91L-57.65 -7.24L-57.65 -4.46L-57.09 -2.79L-56.54 -1.67L-55.42 -0.56L-54.31 0.00M-43.17 -7.80L-44.84 -7.24L-45.95 -6.13L-46.51 -4.46L-46.51 -3.34L-45.95 -1.67L-44.84 -0.56L-43.17 0.00L-42.05 0.00L-40.38 -0.56L-39.27 -1.67L-38.71 -3.34L-38.71 -4.46L-39.27 -6.13L-40.38 -7.24L-42.05 -7.80L-43.17 -7.80M-43.17 -7.80L-44.28 -7.24L-45.40 -6.13L-45.95 -4.46L-45.95 -3.34L-45.40 -1.67L-44.28 -0.56L-43.17 0.00M-42.05 0.00L-40.94 -0.56L-39.83 -1.67L-39.27 -3.34L-39.27 -4.46L-39.83 -6.13L-40.94 -7.24L-42.05 -7.80M-34.26 -7.80L-34.26 0.00M-33.70 -7.80L-33.70 0.00M-33.70 -6.13L-32.58 -7.24L-30.91 -7.80L-29.80 -7.80L-28.13 -7.24L-27.57 -6.13L-27.57 0.00M-29.80 -7.80L-28.69 -7.24L-28.13 -6.13L-28.13 0.00M-27.57 -6.13L-26.46 -7.24L-24.79 -7.80L-23.67 -7.80L-22.00 -7.24L-21.44 -6.13L-21.44 0.00M-23.67 -7.80L-22.56 -7.24L-22.00 -6.13L-22.00 0.00M-35.93 -7.80L-33.70 -7.80M-35.93 0.00L-32.03 0.00M-29.80 0.00L-25.90 0.00M-23.67 0.00L-19.77 0.00M-15.87 -7.80L-15.87 3.90M-15.32 -7.80L-15.32 3.90M-15.32 -6.13L-14.20 -7.24L-13.09 -7.80L-11.98 -7.80L-10.30 -7.24L-9.19 -6.13L-8.63 -4.46L-8.63 -3.34L-9.19 -1.67L-10.30 -0.56L-11.98 0.00L-13.09 0.00L-14.20 -0.56L-15.32 -1.67M-11.98 -7.80L-10.86 -7.24L-9.75 -6.13L-9.19 -4.46L-9.19 -3.34L-9.75 -1.67L-10.86 -0.56L-11.98 0.00M-17.55 -7.80L-15.32 -7.80M-17.55 3.90L-13.65 3.90M-4.18 -11.70L-4.18 0.00M-3.62 -11.70L-3.62 0.00M-5.85 -11.70L-3.62 -11.70M-5.85 0.00L-1.95 0.00M1.39 -4.46L8.08 -4.46L8.08 -5.57L7.52 -6.68L6.96 -7.24L5.85 -7.80L4.18 -7.80L2.51 -7.24L1.39 -6.13L0.84 -4.46L0.84 -3.34L1.39 -1.67L2.51 -0.56L4.18 0.00L5.29 0.00L6.96 -0.56L8.08 -1.67M7.52 -4.46L7.52 -6.13L6.96 -7.24M4.18 -7.80L3.06 -7.24L1.95 -6.13L1.39 -4.46L1.39 -3.34L1.95 -1.67L3.06 -0.56L4.18 0.00M12.53 -11.70L12.53 -2.23L13.09 -0.56L14.20 0.00L15.32 0.00L16.43 -0.56L16.99 -1.67M13.09 -11.70L13.09 -2.23L13.65 -0.56L14.20 0.00M10.86 -7.80L15.32 -7.80M20.89 -7.80L20.89 0.00M21.44 -7.80L21.44 0.00M21.44 -6.13L22.56 -7.24L24.23 -7.80L25.34 -7.80L27.01 -7.24L27.57 -6.13L27.57 0.00M25.34 -7.80L26.46 -7.24L27.01 -6.13L27.01 0.00M19.22 -7.80L21.44 -7.80M19.22 0.00L23.12 0.00M25.34 0.00L29.24 0.00M32.58 -4.46L39.27 -4.46L39.27 -5.57L38.71 -6.68L38.15 -7.24L37.04 -7.80L35.37 -7.80L33.70 -7.24L32.58 -6.13L32.03 -4.46L32.03 -3.34L32.58 -1.67L33.70 -0.56L35.37 0.00L36.48 0.00L38.15 -0.56L39.27 -1.67M38.71 -4.46L38.71 -6.13L38.15 -7.24M35.37 -7.80L34.26 -7.24L33.14 -6.13L32.58 -4.46L32.58 -3.34L33.14 -1.67L34.26 -0.56L35.37 0.00M48.18 -6.68L48.74 -7.80L48.74 -5.57L48.18 -6.68L47.62 -7.24L46.51 -7.80L44.28 -7.80L43.17 -7.24L42.61 -6.68L42.61 -5.57L43.17 -5.01L44.28 -4.46L47.07 -3.34L48.18 -2.79L48.74 -2.23M42.61 -6.13L43.17 -5.57L44.28 -5.01L47.07 -3.90L48.18 -3.34L48.74 -2.79L48.74 -1.11L48.18 -0.56L47.07 0.00L44.84 0.00L43.72 -0.56L43.17 -1.11L42.61 -2.23L42.61 0.00L43.17 -1.11M57.65 -6.68L58.21 -7.80L58.21 -5.57L57.65 -6.68L57.09 -7.24L55.98 -7.80L53.75 -7.80L52.64 -7.24L52.08 -6.68L52.08 -5.57L52.64 -5.01L53.75 -4.46L56.54 -3.34L57.65 -2.79L58.21 -2.23M52.08 -6.13L52.64 -5.57L53.75 -5.01L56.54 -3.90L57.65 -3.34L58.21 -2.79L58.21 -1.11L57.65 -0.56L56.54 0.00L54.31 0.00L53.19 -0.56L52.64 -1.11L52.08 -2.23L52.08 0.00L52.64 -1.11" fill="none" stroke="#000" stroke-width="0.90" stroke-linecap="round" stroke-linejoin="round"/>
<path d="M616.37 93.70L616.37 102.06L616.93 103.73L618.05 104.84L619.72 105.40L620.83 105.40L622.50 104.84L623.62 103.73L624.17 102.06L624.17 93.70M616.93 93.70L616.93 102.06L617.49 103.73L618.60 104.84L619.72 105.40M614.70 93.70L618.60 93.70M622.50 93.70L625.84 93.70M653.37 98.72L663.39 98.72M653.37 102.06L663.39 102.06M675.75 95.93L676.31 96.49L675.75 97.05L675.19 96.49L675.19 95.93L675.75 94.82L676.31 94.26L677.98 93.70L680.20 93.70L681.88 94.26L682.43 94.82L682.99 95.93L682.99 97.05L682.43 98.16L680.76 99.27L677.98 100.39L676.86 100.94L675.75 102.06L675.19 103.73L675.19 105.40M680.20 93.70L681.32 94.26L681.88 94.82L682.43 95.93L682.43 97.05L681.88 98.16L680.20 99.27L677.98 100.39M675.19 104.29L675.75 103.73L676.86 103.73L679.65 104.84L681.32 104.84L682.43 104.29L682.99 103.73M676.86 103.73L679.65 105.40L681.88 105.40L682.43 104.84L682.99 103.73L682.99 102.62M691.34 94.82L691.34 105.40M691.90 93.70L691.90 105.40M691.90 93.70L685.77 102.06L694.69 102.06M689.67 105.40L693.57 105.40M698.59 104.29L698.03 104.84L698.59 105.40L699.14 104.84L698.59 104.29M708.05 94.82L708.05 105.40M708.61 93.70L708.61 105.40M708.61 93.70L702.48 102.06L711.40 102.06M706.38 105.40L710.28 105.40M616.93 122.77L616.93 134.47M617.49 122.77L617.49 134.47M615.26 122.77L621.94 122.77L623.62 123.33L624.17 123.89L624.73 125.00L624.73 126.11L624.17 127.23L623.62 127.79L621.94 128.34M621.94 122.77L623.06 123.33L623.62 123.89L624.17 125.00L624.17 126.11L623.62 127.23L623.06 127.79L621.94 128.34M617.49 128.34L621.94 128.34L623.62 128.90L624.17 129.46L624.73 130.57L624.73 132.24L624.17 133.36L623.62 133.91L621.94 134.47L615.26 134.47M621.94 128.34L623.06 128.90L623.62 129.46L624.17 130.57L624.17 132.24L623.62 133.36L623.06 133.91L621.94 134.47M652.81 127.79L662.84 127.79M652.81 131.13L662.84 131.13M675.19 125.00L675.75 125.56L675.19 126.11L674.63 125.56L674.63 125.00L675.19 123.89L675.75 123.33L677.42 122.77L679.65 122.77L681.32 123.33L681.88 123.89L682.43 125.00L682.43 126.11L681.88 127.23L680.20 128.34L677.42 129.46L676.31 130.01L675.19 131.13L674.63 132.80L674.63 134.47M679.65 122.77L680.76 123.33L681.32 123.89L681.88 125.00L681.88 126.11L681.32 127.23L679.65 128.34L677.42 129.46M674.63 133.36L675.19 132.80L676.31 132.80L679.09 133.91L680.76 133.91L681.88 133.36L682.43 132.80M676.31 132.80L679.09 134.47L681.32 134.47L681.88 133.91L682.43 132.80L682.43 131.69M690.79 123.89L690.79 134.47M691.34 122.77L691.34 134.47M691.34 122.77L685.22 131.13L694.13 131.13M689.12 134.47L693.02 134.47M698.03 133.36L697.47 133.91L698.03 134.47L698.59 133.91L698.03 133.36M707.50 123.89L707.50 134.47M708.05 122.77L708.05 134.47M708.05 122.77L701.93 131.13L710.84 131.13M705.83 134.47L709.73 134.47M616.37 151.84L620.27 163.54M616.93 151.84L620.27 161.87M624.17 151.84L620.27 163.54M615.26 151.84L618.60 151.84M621.94 151.84L625.29 151.84M652.25 156.86L662.28 156.86M652.25 160.20L662.28 160.20M674.63 154.07L675.19 154.63L674.63 155.19L674.08 154.63L674.08 154.07L674.63 152.96L675.19 152.40L676.86 151.84L679.09 151.84L680.76 152.40L681.32 152.96L681.88 154.07L681.88 155.19L681.32 156.30L679.65 157.41L676.86 158.53L675.75 159.08L674.63 160.20L674.08 161.87L674.08 163.54M679.09 151.84L680.20 152.40L680.76 152.96L681.32 154.07L681.32 155.19L680.76 156.30L679.09 157.41L676.86 158.53M674.08 162.43L674.63 161.87L675.75 161.87L678.53 162.98L680.20 162.98L681.32 162.43L681.88 161.87M675.75 161.87L678.53 163.54L680.76 163.54L681.32 162.98L681.88 161.87L681.88 160.76M685.77 154.07L686.33 154.63L685.77 155.19L685.22 154.63L685.22 154.07L685.77 152.96L686.33 152.40L688.00 151.84L690.23 151.84L691.90 152.40L692.46 153.51L692.46 155.19L691.90 156.30L690.23 156.86L688.56 156.86M690.23 151.84L691.34 152.40L691.90 153.51L691.90 155.19L691.34 156.30L690.23 156.86M690.23 156.86L691.34 157.41L692.46 158.53L693.02 159.64L693.02 161.31L692.46 162.43L691.90 162.98L690.23 163.54L688.00 163.54L686.33 162.98L685.77 162.43L685.22 161.31L685.22 160.76L685.77 160.20L686.33 160.76L685.77 161.31M691.90 157.97L692.46 159.64L692.46 161.31L691.90 162.43L691.34 162.98L690.23 163.54M697.47 162.43L696.91 162.98L697.47 163.54L698.03 162.98L697.47 162.43M701.93 151.84L701.93 155.19M701.93 154.07L702.48 152.96L703.60 151.84L704.71 151.84L707.50 153.51L708.61 153.51L709.17 152.96L709.73 151.84M702.48 152.96L703.60 152.40L704.71 152.40L707.50 153.51M709.73 151.84L709.73 153.51L709.17 155.19L706.94 157.97L706.38 159.08L705.83 160.76L705.83 163.54M709.17 155.19L706.38 157.97L705.83 159.08L705.27 160.76L705.27 163.54M619.99 180.91L619.99 192.61M620.55 180.91L620.55 192.61M618.32 180.91L622.22 180.91M618.32 192.61L622.22 192.61M649.75 185.93L659.77 185.93M649.75 189.27L659.77 189.27M672.13 183.14L672.68 183.70L672.13 184.26L671.57 183.70L671.57 183.14L672.13 182.03L672.68 181.47L674.36 180.91L676.58 180.91L678.25 181.47L678.81 182.03L679.37 183.14L679.37 184.26L678.81 185.37L677.14 186.48L674.36 187.60L673.24 188.15L672.13 189.27L671.57 190.94L671.57 192.61M676.58 180.91L677.70 181.47L678.25 182.03L678.81 183.14L678.81 184.26L678.25 185.37L676.58 186.48L674.36 187.60M671.57 191.50L672.13 190.94L673.24 190.94L676.03 192.05L677.70 192.05L678.81 191.50L679.37 190.94M673.24 190.94L676.03 192.61L678.25 192.61L678.81 192.05L679.37 190.94L679.37 189.83M683.27 183.14L683.82 183.70L683.27 184.26L682.71 183.70L682.71 183.14L683.27 182.03L683.82 181.47L685.50 180.91L687.72 180.91L689.39 181.47L689.95 182.03L690.51 183.14L690.51 184.26L689.95 185.37L688.28 186.48L685.50 187.60L684.38 188.15L683.27 189.27L682.71 190.94L682.71 192.61M687.72 180.91L688.84 181.47L689.39 182.03L689.95 183.14L689.95 184.26L689.39 185.37L687.72 186.48L685.50 187.60M682.71 191.50L683.27 190.94L684.38 190.94L687.17 192.05L688.84 192.05L689.95 191.50L690.51 190.94M684.38 190.94L687.17 192.61L689.39 192.61L689.95 192.05L690.51 190.94L690.51 189.83M694.96 191.50L694.41 192.05L694.96 192.61L695.52 192.05L694.96 191.50M702.21 180.91L700.53 181.47L699.98 182.58L699.98 184.26L700.53 185.37L702.21 185.93L704.43 185.93L706.10 185.37L706.66 184.26L706.66 182.58L706.10 181.47L704.43 180.91L702.21 180.91M702.21 180.91L701.09 181.47L700.53 182.58L700.53 184.26L701.09 185.37L702.21 185.93M704.43 185.93L705.55 185.37L706.10 184.26L706.10 182.58L705.55 181.47L704.43 180.91M702.21 185.93L700.53 186.48L699.98 187.04L699.42 188.15L699.42 190.38L699.98 191.50L700.53 192.05L702.21 192.61L704.43 192.61L706.10 192.05L706.66 191.50L707.22 190.38L707.22 188.15L706.66 187.04L706.10 186.48L704.43 185.93M702.21 185.93L701.09 186.48L700.53 187.04L699.98 188.15L699.98 190.38L700.53 191.50L701.09 192.05L702.21 192.61M704.43 192.61L705.55 192.05L706.10 191.50L706.66 190.38L706.66 188.15L706.10 187.04L705.55 186.48L704.43 185.93" fill="none" stroke="#000" stroke-width="0.90" stroke-linecap="round" stroke-linejoin="round"/>
<path d="M628.63 102.38L628.63 109.40M628.96 102.38L628.96 109.40M627.63 102.38L628.96 102.38M627.63 109.40L629.97 109.40M632.30 102.38L631.97 102.72L632.30 103.05L632.64 102.72L632.30 102.38M632.30 104.72L632.30 109.40M632.64 104.72L632.64 109.40M631.30 104.72L632.64 104.72M631.30 109.40L633.64 109.40M635.98 104.72L635.98 109.40M636.32 104.72L636.32 109.40M636.32 105.72L636.98 105.06L637.99 104.72L638.65 104.72L639.66 105.06L639.99 105.72L639.99 109.40M638.65 104.72L639.32 105.06L639.66 105.72L639.66 109.40M639.99 105.72L640.66 105.06L641.66 104.72L642.33 104.72L643.33 105.06L643.67 105.72L643.67 109.40M642.33 104.72L643.00 105.06L643.33 105.72L643.33 109.40M634.98 104.72L636.32 104.72M634.98 109.40L637.32 109.40M638.65 109.40L640.99 109.40M642.33 109.40L644.67 109.40M628.07 131.45L628.07 138.47M628.41 131.45L628.41 138.47M627.07 131.45L628.41 131.45M627.07 138.47L629.41 138.47M631.75 131.45L631.41 131.79L631.75 132.12L632.08 131.79L631.75 131.45M631.75 133.79L631.75 138.47M632.08 133.79L632.08 138.47M630.75 133.79L632.08 133.79M630.75 138.47L633.08 138.47M635.42 133.79L635.42 138.47M635.76 133.79L635.76 138.47M635.76 134.79L636.43 134.13L637.43 133.79L638.10 133.79L639.10 134.13L639.43 134.79L639.43 138.47M638.10 133.79L638.77 134.13L639.10 134.79L639.10 138.47M639.43 134.79L640.10 134.13L641.11 133.79L641.77 133.79L642.78 134.13L643.11 134.79L643.11 138.47M641.77 133.79L642.44 134.13L642.78 134.79L642.78 138.47M634.42 133.79L635.76 133.79M634.42 138.47L636.76 138.47M638.10 138.47L640.44 138.47M641.77 138.47L644.11 138.47M627.51 160.52L627.51 167.54M627.85 160.52L627.85 167.54M626.51 160.52L627.85 160.52M626.51 167.54L628.85 167.54M631.19 160.52L630.86 160.86L631.19 161.19L631.52 160.86L631.19 160.52M631.19 162.86L631.19 167.54M631.52 162.86L631.52 167.54M630.19 162.86L631.52 162.86M630.19 167.54L632.53 167.54M634.87 162.86L634.87 167.54M635.20 162.86L635.20 167.54M635.20 163.86L635.87 163.20L636.87 162.86L637.54 162.86L638.54 163.20L638.88 163.86L638.88 167.54M637.54 162.86L638.21 163.20L638.54 163.86L638.54 167.54M638.88 163.86L639.55 163.20L640.55 162.86L641.22 162.86L642.22 163.20L642.55 163.86L642.55 167.54M641.22 162.86L641.89 163.20L642.22 163.86L642.22 167.54M633.86 162.86L635.20 162.86M633.86 167.54L636.20 167.54M637.54 167.54L639.88 167.54M641.22 167.54L643.56 167.54M625.01 189.59L625.01 196.61M625.34 189.59L625.34 196.61M624.01 189.59L625.34 189.59M624.01 196.61L626.34 196.61M628.68 189.59L628.35 189.93L628.68 190.26L629.02 189.93L628.68 189.59M628.68 191.93L628.68 196.61M629.02 191.93L629.02 196.61M627.68 191.93L629.02 191.93M627.68 196.61L630.02 196.61M632.36 191.93L632.36 196.61M632.69 191.93L632.69 196.61M632.69 192.93L633.36 192.27L634.37 191.93L635.03 191.93L636.04 192.27L636.37 192.93L636.37 196.61M635.03 191.93L635.70 192.27L636.04 192.93L636.04 196.61M636.37 192.93L637.04 192.27L638.04 191.93L638.71 191.93L639.71 192.27L640.05 192.93L640.05 196.61M638.71 191.93L639.38 192.27L639.71 192.93L639.71 196.61M631.36 191.93L632.69 191.93M631.36 196.61L633.70 196.61M635.03 196.61L637.37 196.61M638.71 196.61L641.05 196.61" fill="none" stroke="#000" stroke-width="0.75" stroke-linecap="round" stroke-linejoin="round"/>
</svg>
</body></html>
